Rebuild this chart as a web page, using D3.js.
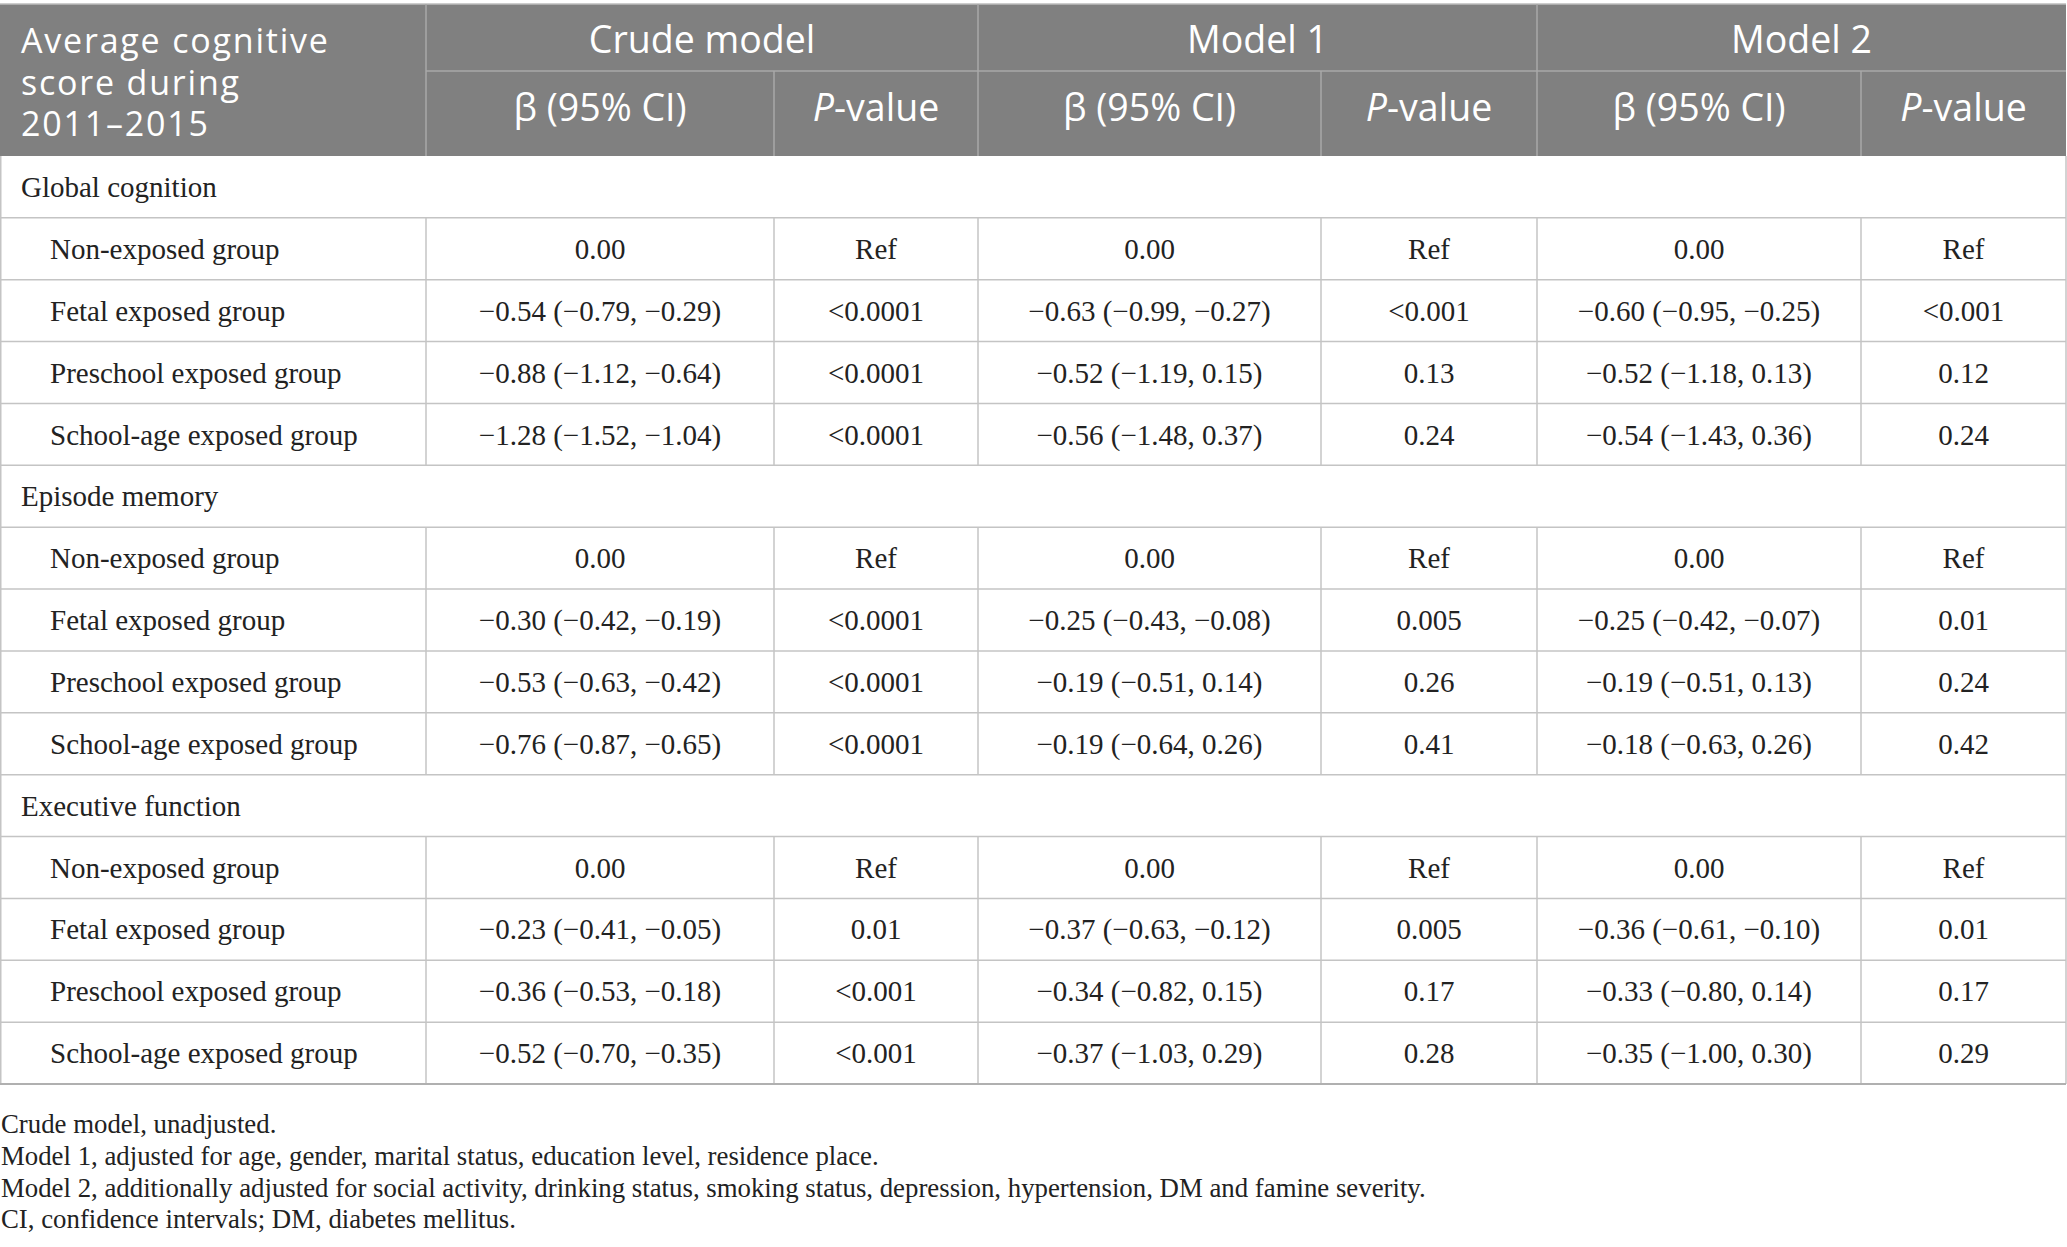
<!DOCTYPE html>
<html>
<head>
<meta charset="utf-8">
<script src="https://cdn.jsdelivr.net/npm/d3@7"></script>
<style>
  html, body { margin: 0; padding: 0; background: #fff; }
  svg { display: block; }
</style>
</head>
<body>
<svg width="2067" height="1247"></svg>
<script>
// Table content
var sections = ["Global cognition", "Episode memory", "Executive function"];
var groups = ["Non-exposed group", "Fetal exposed group", "Preschool exposed group", "School-age exposed group"];

var crudeBeta = [
    ["0.00", "−0.54 (−0.79, −0.29)", "−0.88 (−1.12, −0.64)", "−1.28 (−1.52, −1.04)"],
    ["0.00", "−0.30 (−0.42, −0.19)", "−0.53 (−0.63, −0.42)", "−0.76 (−0.87, −0.65)"],
    ["0.00", "−0.23 (−0.41, −0.05)", "−0.36 (−0.53, −0.18)", "−0.52 (−0.70, −0.35)"]
];
var crudeP = [
    ["Ref", "<0.0001", "<0.0001", "<0.0001"],
    ["Ref", "<0.0001", "<0.0001", "<0.0001"],
    ["Ref", "0.01", "<0.001", "<0.001"]
];
var model1Beta = [
    ["0.00", "−0.63 (−0.99, −0.27)", "−0.52 (−1.19, 0.15)", "−0.56 (−1.48, 0.37)"],
    ["0.00", "−0.25 (−0.43, −0.08)", "−0.19 (−0.51, 0.14)", "−0.19 (−0.64, 0.26)"],
    ["0.00", "−0.37 (−0.63, −0.12)", "−0.34 (−0.82, 0.15)", "−0.37 (−1.03, 0.29)"]
];
var model1P = [
    ["Ref", "<0.001", "0.13", "0.24"],
    ["Ref", "0.005", "0.26", "0.41"],
    ["Ref", "0.005", "0.17", "0.28"]
];
var model2Beta = [
    ["0.00", "−0.60 (−0.95, −0.25)", "−0.52 (−1.18, 0.13)", "−0.54 (−1.43, 0.36)"],
    ["0.00", "−0.25 (−0.42, −0.07)", "−0.19 (−0.51, 0.13)", "−0.18 (−0.63, 0.26)"],
    ["0.00", "−0.36 (−0.61, −0.10)", "−0.33 (−0.80, 0.14)", "−0.35 (−1.00, 0.30)"]
];
var model2P = [
    ["Ref", "<0.001", "0.12", "0.24"],
    ["Ref", "0.01", "0.24", "0.42"],
    ["Ref", "0.01", "0.17", "0.29"]
];

var modelNames = ["Crude model", "Model 1", "Model 2"];
var headLines = ["Average cognitive", "score during", "2011–2015"];
var footnotes = [
    "Crude model, unadjusted.",
    "Model 1, adjusted for age, gender, marital status, education level, residence place.",
    "Model 2, additionally adjusted for social activity, drinking status, smoking status, depression, hypertension, DM and famine severity.",
    "CI, confidence intervals; DM, diabetes mellitus."
];

var svg = d3.select("svg");

// column edges
var colX = [0, 426, 774, 978, 1321, 1537, 1861, 2066];
var headTop = 4, headMid = 71, headBot = 156, tableBot = 1084;

var sansFont = "'Open Sans', 'Noto Sans', sans-serif";
var serifFont = "'Liberation Serif', 'DejaVu Serif', serif";

// build row list
var rows = [];
sections.forEach(function(s, i) {
    rows.push({type: "section", label: s});
    groups.forEach(function(g, j) {
        rows.push({type: "data", label: g,
            cells: [crudeBeta[i][j], crudeP[i][j], model1Beta[i][j], model1P[i][j], model2Beta[i][j], model2P[i][j]]});
    });
});

var yScale = d3.scaleBand()
    .domain(d3.range(rows.length))
    .range([headBot, tableBot]);

// header background
svg.append("rect")
    .attr("x", 0).attr("y", headTop)
    .attr("width", colX[7]).attr("height", headBot - headTop)
    .attr("fill", "#808080");

var hg = svg.append("g").attr("stroke", "#a9a9a9").attr("stroke-width", 1.5);
hg.append("line").attr("x1", 0).attr("x2", colX[7]).attr("y1", headTop).attr("y2", headTop).attr("stroke", "#bdbdbd");
hg.append("line").attr("x1", colX[1]).attr("x2", colX[7]).attr("y1", headMid).attr("y2", headMid);
[1, 3, 5].forEach(function(k) {
    hg.append("line").attr("x1", colX[k]).attr("x2", colX[k]).attr("y1", headTop).attr("y2", headBot);
});
[2, 4, 6].forEach(function(k) {
    hg.append("line").attr("x1", colX[k]).attr("x2", colX[k]).attr("y1", headMid).attr("y2", headBot);
});

// header text
var ht = svg.append("g").attr("fill", "#fff").attr("font-family", sansFont)
    .attr("font-size", 37.5);
headLines.forEach(function(t, i) {
    ht.append("text").attr("x", 21).attr("y", 41 + i * 41.7).attr("dy", "0.35em")
        .attr("font-size", 34).attr("letter-spacing", 1.8)
        .text(t);
});
modelNames.forEach(function(m, i) {
    ht.append("text")
        .attr("x", (colX[1 + 2 * i] + colX[3 + 2 * i]) / 2)
        .attr("y", 40).attr("dy", "0.35em")
        .attr("text-anchor", "middle").text(m);
    ht.append("text")
        .attr("x", (colX[1 + 2 * i] + colX[2 + 2 * i]) / 2)
        .attr("y", 108).attr("dy", "0.35em")
        .attr("text-anchor", "middle").text("β (95% CI)");
    var p = ht.append("text")
        .attr("x", (colX[2 + 2 * i] + colX[3 + 2 * i]) / 2)
        .attr("y", 108).attr("dy", "0.35em")
        .attr("text-anchor", "middle");
    p.append("tspan").attr("font-style", "italic").text("P");
    p.append("tspan").text("-value");
});

// body grid
var grid = svg.append("g").attr("stroke", "#c4c4c4").attr("stroke-width", 1.5);
rows.forEach(function(r, i) {
    var y0 = yScale(i), y1 = y0 + yScale.bandwidth();
    grid.append("line").attr("x1", 0).attr("x2", colX[7]).attr("y1", y1).attr("y2", y1);
    if (r.type === "data") {
        colX.slice(1, 7).forEach(function(x) {
            grid.append("line").attr("x1", x).attr("x2", x).attr("y1", y0).attr("y2", y1);
        });
    }
});
grid.append("line").attr("x1", 0.75).attr("x2", 0.75).attr("y1", headBot).attr("y2", tableBot);
grid.append("line").attr("x1", colX[7]).attr("x2", colX[7]).attr("y1", headBot).attr("y2", tableBot);
grid.append("line").attr("x1", 0).attr("x2", colX[7]).attr("y1", tableBot).attr("y2", tableBot).attr("stroke", "#b0b0b0").attr("stroke-width", 2);

// body text
var bt = svg.append("g").attr("fill", "#222").attr("font-family", serifFont).attr("font-size", 29);
rows.forEach(function(r, i) {
    var yc = yScale(i) + yScale.bandwidth() / 2;
    bt.append("text")
        .attr("x", r.type === "section" ? 21 : 50)
        .attr("y", yc).attr("dy", "0.35em")
        .text(r.label);
    if (r.type === "data") {
        r.cells.forEach(function(c, k) {
            bt.append("text")
                .attr("x", (colX[k + 1] + colX[k + 2]) / 2)
                .attr("y", yc).attr("dy", "0.35em")
                .attr("text-anchor", "middle")
                .text(c);
        });
    }
});

// footnotes
var fn = svg.append("g").attr("fill", "#222").attr("font-family", serifFont).attr("font-size", 26.8);
footnotes.forEach(function(t, i) {
    fn.append("text").attr("x", 1).attr("y", 1124 + i * 31.7).attr("dy", "0.35em").text(t);
});
</script>
</body>
</html>
